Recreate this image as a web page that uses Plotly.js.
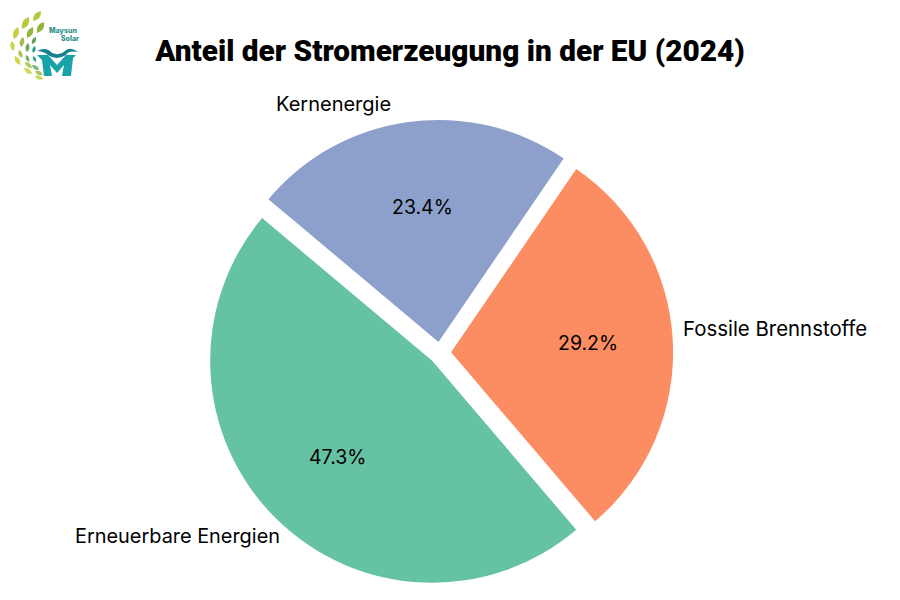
<!DOCTYPE html>
<html><head><meta charset="utf-8">
<script src="https://cdn.plot.ly/plotly-3.0.1.min.js"></script>
<style>html,body{margin:0;padding:0;background:#fff}#c{width:900px;height:600px}</style></head>
<body><div id="c"></div>
<script>
const categories = ["Erneuerbare Energien", "Fossile Brennstoffe", "Kernenergie"];
const shares = [47.3, 29.2, 23.4];
const colors = ["#66c2a5", "#fc8d62", "#8da0cb"];
const titleText = "Anteil der Stromerzeugung in der EU (2024)";
const W = 900, H = 600;

// Logo as inline SVG
const petals = [
 [41,11,33,21,"#b9c53a"],[29,17,22,29,"#bcc83c"],[18,27,14,39,"#c6d040"],[12,41,13,51,"#cbd64e"],
 [15,56,20,65,"#cdd84e"],[24,68,32,74,"#d0da55"],[35,76,43,79,"#c8d650"],
 [44,22,37,33,"#93b23e"],[33,27,27,38,"#96b440"],[23,37,21,47,"#a4bd4a"],[19,50,22,58,"#a8c650"],
 [25,62,32,68,"#b0cc58"],[35,71,43,75,"#a8c85c"],
 [36,37,32,44,"#5fa058"],[28,43,27,52,"#68a860"],[26,55,29,62,"#70b468"],[32,65,39,70,"#78bc70"],
 [35,46,33,53,"#2f9a84"],[33,56,36,62,"#3fa590"]
];
const petalSvg = petals.map(p => {
  const [x1,y1,x2,y2,c] = p;
  const mx=(x1+x2)/2, my=(y1+y2)/2, dx=y2-y1, dy=x1-x2;
  return `<path d="M${x1} ${y1}Q${mx+dx*.45} ${my+dy*.45} ${x2} ${y2}Q${mx-dx*.45} ${my-dy*.45} ${x1} ${y1}Z" fill="${c}"/>`;
}).join("");
const logoSvg = `<svg xmlns="http://www.w3.org/2000/svg" width="90" height="90" viewBox="0 0 90 90">${petalSvg}
<path d="M37 51Q46 46 52 53Q60 56 65 51Q70 46 78 52Q68 50 66 55Q56 61 48 55Q43 51 37 51Z" fill="#17808f"/>
<path d="M37 55L48 55L57 65L66 55L76 55L73 58L71 76L62 76L64 65L57 73L50 65L52 76L44 76L42 60Z" fill="#18a3a8"/>
</svg>`;
const logoSrc = "data:image/svg+xml;charset=utf-8," + encodeURIComponent(logoSvg);

// first slice begins at upper left and runs counterclockwise
const startAngle = -50;
const total = shares.reduce((a, b) => a + b, 0);
const trace = {
  type: "pie",
  labels: categories,
  values: shares,
  sort: false,
  direction: "counterclockwise",
  rotation: startAngle - shares[0] / total * 360 + 360,
  pull: [0.05, 0.05, 0.05],
  marker: {colors: colors, line: {width: 0}},
  textinfo: "none",
  domain: {x: [206.9/W, 673.1/W], y: [1-586/H, 1-119.8/H]},
  hoverinfo: "label+percent",
  showlegend: false
};
const lab = (text, x, y, anchor, size) => ({text, x: x/W, y: 1-y/H, xref: "paper", yref: "paper",
  xanchor: anchor, yanchor: "middle", showarrow: false,
  font: {family: "Inter, sans-serif", size: size, color: "#000"}});
const pct = v => v.toFixed(1) + "%";
const layout = {
  width: W, height: H,
  margin: {l: 0, r: 0, t: 0, b: 0},
  paper_bgcolor: "#fff",
  showlegend: false,
  title: {text: titleText, x: 450/W, xanchor: "center", y: 1-51/H, yanchor: "middle",
    font: {family: "Roboto, sans-serif", size: 29.8, weight: 900, color: "#000"}},
  annotations: [
    lab(categories[0], 282, 536, "right", 19.9),
    lab(categories[1], 681, 328, "left", 20.4),
    lab(categories[2], 393, 104, "right", 20),
    lab(pct(shares[0]), 337, 457, "center", 19.5),
    lab(pct(shares[1]), 588, 343, "center", 19.5),
    lab(pct(shares[2]), 422, 207, "center", 19.5),
    {text: "Maysun", x: 47/W, y: 1-30/H, xref:"paper", yref:"paper", xanchor:"left", yanchor:"middle", showarrow:false,
      font:{family:"Inter, sans-serif", size:7, weight:800, color:"#2f8f8a"}},
    {text: "Solar", x: 81/W, y: 1-38.5/H, xref:"paper", yref:"paper", xanchor:"right", yanchor:"middle", showarrow:false,
      font:{family:"Inter, sans-serif", size:7, weight:800, color:"#2f8f8a"}}
  ],
  images: [{source: logoSrc, xref: "paper", yref: "paper", x: 0, y: 1, sizex: 90/W, sizey: 90/H,
    xanchor: "left", yanchor: "top", sizing: "stretch", layer: "above"}]
};
Plotly.newPlot("c", [trace], layout, {displayModeBar: false, staticPlot: true});
</script></body></html>
